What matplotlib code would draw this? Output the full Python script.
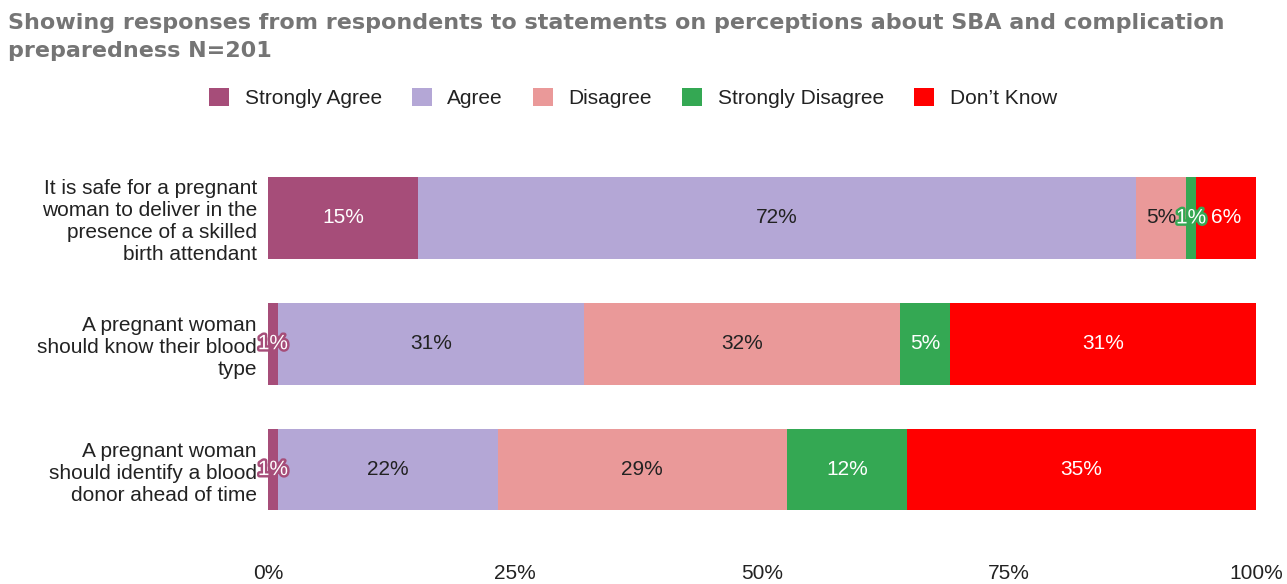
import numpy as np
import matplotlib.pyplot as plt
import matplotlib.patheffects as pe

plt.rcParams['font.family'] = ['Liberation Sans', 'DejaVu Sans']

statements = [
    "It is safe for a pregnant\nwoman to deliver in the\npresence of a skilled\nbirth attendant",
    "A pregnant woman\nshould know their blood\ntype",
    "A pregnant woman\nshould identify a blood\ndonor ahead of time",
]
responses = ["Strongly Agree", "Agree", "Disagree", "Strongly Disagree", "Don\u2019t Know"]
strongly_agree = [15, 1, 1]
agree = [72, 31, 22]
disagree = [5, 32, 29]
strongly_disagree = [1, 5, 12]
dont_know = [6, 31, 35]

colors = ["#A64D79", "#B4A7D6", "#EA9999", "#34A853", "#FF0000"]
label_colors = ["white", "#222222", "#222222", "white", "white"]

data = np.array([strongly_agree, agree, disagree, strongly_disagree, dont_know], dtype=float)
# each row is scaled to a full 100% bar
shares = data / data.sum(axis=0) * 100

fig = plt.figure(figsize=(12.87, 5.84), dpi=100)
ax = fig.add_axes([268 / 1287, 1 - 535 / 584, (1256 - 268) / 1287, 380 / 584])

y = np.arange(len(statements))
left = np.zeros(len(statements))
for i, name in enumerate(responses):
    ax.barh(y, shares[i], left=left, height=0.65, color=colors[i], label=name)
    for j in range(len(statements)):
        val = int(data[i, j])
        cx = left[j] + shares[i, j] / 2
        if val <= 1:
            # tiny segment: white text with a stroke in the segment colour
            ax.text(cx, y[j], f"{val}%", ha='center', va='center', fontsize=15,
                    color='white',
                    path_effects=[pe.withStroke(linewidth=3.5, foreground=colors[i])])
        else:
            ax.text(cx, y[j], f"{val}%", ha='center', va='center', fontsize=15,
                    color=label_colors[i])
    left += shares[i]

ax.set_xlim(0, 100)
ax.set_ylim(2.52, -0.5)
ax.set_yticks(y)
ax.set_yticklabels(statements, fontsize=15, color='#222222', linespacing=1.2)
ax.set_xticks([0, 25, 50, 75, 100])
ax.set_xticklabels(["0%", "25%", "50%", "75%", "100%"], fontsize=15, color='#222222')
ax.tick_params(axis='both', length=0)
ax.tick_params(axis='x', pad=21)
ax.tick_params(axis='y', pad=8)
for s in ax.spines.values():
    s.set_visible(False)

fig.text(8 / 1287, 1 - 37 / 584,
         "Showing responses from respondents to statements on perceptions about SBA and complication\npreparedness N=201",
         ha='left', va='center', fontsize=16, fontweight='bold', color='#757575',
         family='DejaVu Sans', linespacing=1.55)
fig.legend(loc='center', bbox_to_anchor=(633 / 1287, 1 - 98 / 584), ncol=5,
           frameon=False, fontsize=15, handlelength=0.95, handleheight=0.95,
           columnspacing=1.45, handletextpad=0.75, labelcolor='#222222')

fig.savefig("out.png", dpi=100)
